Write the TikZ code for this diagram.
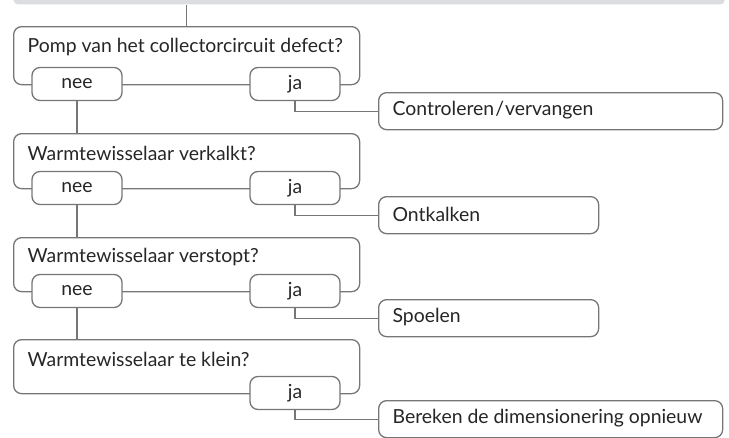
\documentclass[tikz,border=0pt]{standalone}
\usepackage{fontspec}
\setmainfont{Lato}
\begin{document}
\begin{tikzpicture}[x=1pt,y=-1pt,
  line width=1.3pt,
  every node/.style={font=\fontsize{19.4}{22}\selectfont, text=black!85},
  qbox/.style={draw=lc, rounded corners=8pt, anchor=north west, minimum width=346pt, inner sep=0pt},
  abox/.style={draw=lc, fill=white, rounded corners=8pt, minimum width=90pt, minimum height=33pt, inner sep=0pt},
  actbox/.style={draw=lc, fill=white, rounded corners=8pt, anchor=north west, minimum height=37pt, inner sep=0pt},
  qtext/.style={anchor=west, inner sep=0pt},
  atext/.style={anchor=west, inner sep=0pt},
  conn/.style={draw=lc}
]
\definecolor{lc}{HTML}{767676}
\definecolor{barc}{HTML}{DCDDE0}
\useasboundingbox (0,0) rectangle (729,437);

% top bar
\node[fill=barc, rounded corners=4pt, anchor=south west, minimum width=711pt, minimum height=12pt, inner sep=0pt] (bar) at (13,5) {};

% question boxes
\node[qbox, minimum height=58pt] (q1) at (13,26) {};
\node[qbox, minimum height=55pt] (q2) at (13,133) {};
\node[qbox, minimum height=54pt] (q3) at (13,237) {};
\node[qbox, minimum height=54pt] (q4) at (13,339) {};

\node[qtext] (q1t) at (27,47) {Pomp van het collectorcircuit defect?};
\node[qtext] (q2t) at (27,153) {Warmtewisselaar verkalkt?};
\node[qtext] (q3t) at (27,257) {Warmtewisselaar verstopt?};
\node[qtext] (q4t) at (27,359) {Warmtewisselaar te klein?};

% nee / ja boxes
\node[abox] (n1) at (77,84) {nee};
\node[abox] (j1) at (295,84) {ja};
\node[abox] (n2) at (77,188) {nee};
\node[abox] (j2) at (295,188) {ja};
\node[abox] (n3) at (77,291) {nee};
\node[abox] (j3) at (295,291) {ja};
\node[abox] (j4) at (295,393) {ja};

% action boxes
\node[actbox, minimum width=344pt] (a1) at (378,92) {};
\node[actbox, minimum width=220pt] (a2) at (378,196) {};
\node[actbox, minimum width=220pt] (a3) at (378,299) {};
\node[actbox, minimum width=344pt] (a4) at (378,400) {};

\node[atext] (a1t) at (392,110.5) {Controleren\kern1pt/\kern1pt vervangen};
\node[atext] (a2t) at (392,214.5) {Ontkalken};
\node[atext] (a3t) at (392,317.5) {Spoelen};
\node[atext] (a4t) at (392,418.5) {Bereken de dimensionering opnieuw};

% connectors
\draw[conn] (q1.north) -- (q1.north |- bar.south);
\draw[conn] (n1.south) -- (n1.south |- q2.north);
\draw[conn] (n2.south) -- (n2.south |- q3.north);
\draw[conn] (n3.south) -- (n3.south |- q4.north);
\draw[conn] (j1.south) |- (a1.west);
\draw[conn] (j2.south) |- (a2.west);
\draw[conn] (j3.south) |- (a3.west);
\draw[conn] (j4.south) |- (a4.west);
\end{tikzpicture}
\end{document}
